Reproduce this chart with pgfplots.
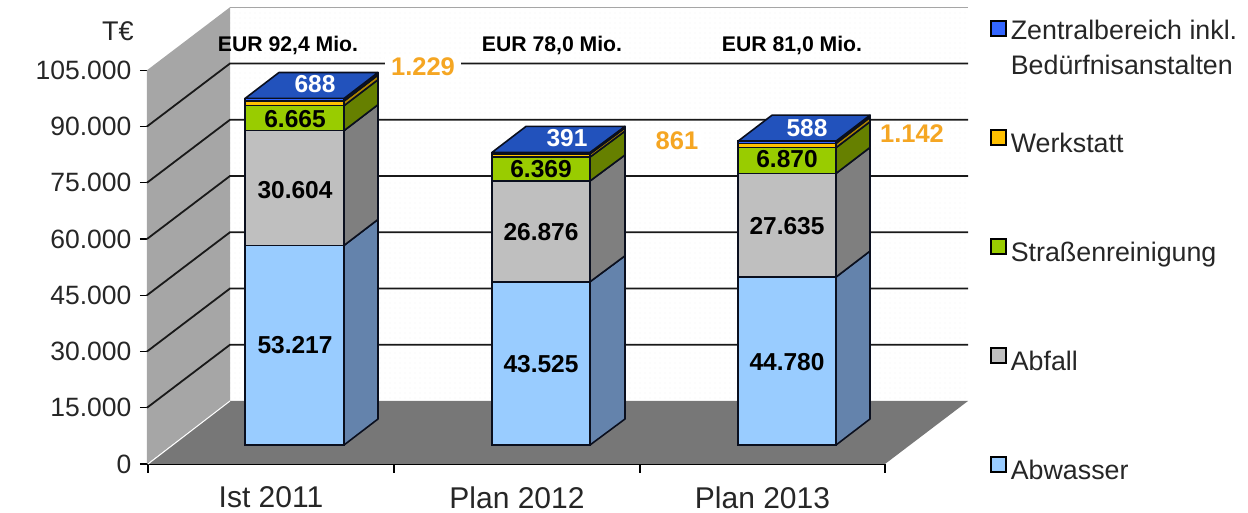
\documentclass[border=0pt]{standalone}
\usepackage{pgfplots}
\pgfplotsset{compat=1.18}
\usepackage{fontspec}
\setmainfont{Liberation Sans}
\usetikzlibrary{patterns.meta}
\definecolor{cAbw}{HTML}{99CCFF}\definecolor{cAbwS}{HTML}{6483AC}
\definecolor{cAbf}{HTML}{BFBFBF}\definecolor{cAbfS}{HTML}{7F7F7F}
\definecolor{cStr}{HTML}{99CC00}\definecolor{cStrS}{HTML}{668000}
\definecolor{cWer}{HTML}{FFC000}\definecolor{cWerS}{HTML}{B08500}
\definecolor{cZen}{HTML}{3366FF}\definecolor{cZenT}{HTML}{2252BC}\definecolor{cZenS}{HTML}{16286A}
\definecolor{cOr}{HTML}{F5A623}
\definecolor{cFloor}{HTML}{777777}\definecolor{cWall}{HTML}{A6A6A6}
\definecolor{cEdge}{HTML}{0A0F1E}
\newcommand\fs[1]{\fontsize{#1pt}{#1pt}\selectfont}
\pgfplotsset{
  common/.style={scale only axis,width=737pt,height=393.75pt,at={(148pt,49pt)},anchor=south west,
    xmin=148,xmax=885,clip=false},
  face/.style={draw=cEdge,line width=1.6pt,line join=round,forget plot},
  sw/.style={legend image code/.code={\draw[##1,draw=black,line width=1.8pt] (0pt,-2pt) rectangle (15pt,13pt);}},
}
\begin{document}
\begin{tikzpicture}
\useasboundingbox (0,0) rectangle (1248pt,513pt);
% walls, floor, grid and axes
\begin{axis}[common,ymin=0,ymax=105000,
  axis lines=left,axis line style={-,line width=1.8pt,black},
  xtick={271,517,762.5},xticklabels={Ist 2011,Plan 2012,Plan 2013},
  major x tick style={draw=none},
  minor xtick={148,394,640,885},
  minor tick length=9pt,minor tick style={line width=1.3pt,black},
  ytick={0,15000,30000,45000,60000,75000,90000,105000},
  major tick length=8pt,tick style={line width=1.3pt,black},tick align=outside,
  scaled y ticks=false,
  /pgf/number format/fixed,
  /pgf/number format/assume math mode=true,
  /pgf/number format/1000 sep={.},
  yticklabel style={font=\fs{26.5},text=black!85,xshift=-5pt},
  xticklabel style={font=\fs{30},text=black!85,yshift=-11pt},
  axis on top=false,
]
\addplot[fill=white,pattern={Dots[distance=5pt,radius=0.45pt]},pattern color=black!14,draw=none,forget plot]
  coordinates {(230,16800)(968,16800)(968,121800)(230,121800)} --cycle;
\addplot[draw=black!35,line width=1.2pt,forget plot] coordinates {(230,121800)(968,121800)};
\addplot[fill=cWall,draw=none,forget plot] coordinates {(147,0)(230,16800)(230,121800)(147,105000)} --cycle;
\addplot[fill=cFloor,draw=none,forget plot] coordinates {(148,0)(230,16800)(968,16800)(885,0)} --cycle;
\addplot[draw=white,line width=1pt,forget plot] coordinates {(148,0)(230,16800)};
\addplot[draw=black!90,line width=1.8pt,forget plot] coordinates {(147,15000)(230,31800)(968,31800)};
\addplot[draw=black!90,line width=1.8pt,forget plot] coordinates {(147,30000)(230,46800)(968,46800)};
\addplot[draw=black!90,line width=1.8pt,forget plot] coordinates {(147,45000)(230,61800)(968,61800)};
\addplot[draw=black!90,line width=1.8pt,forget plot] coordinates {(147,60000)(230,76800)(968,76800)};
\addplot[draw=black!90,line width=1.8pt,forget plot] coordinates {(147,75000)(230,91800)(968,91800)};
\addplot[draw=black!90,line width=1.8pt,forget plot] coordinates {(147,90000)(230,106800)(968,106800)};
\end{axis}
% side and top faces of the bars
\begin{axis}[common,ymin=-5067,ymax=99933,hide axis]
\addplot[face,fill=cAbwS] coordinates {(344,0)(378,6933)(378,60150)(344,53217)} --cycle;
\addplot[face,fill=cAbfS] coordinates {(344,53217)(378,60150)(378,90754)(344,83821)} --cycle;
\addplot[face,fill=cStrS] coordinates {(344,83821)(378,90754)(378,97419)(344,90486)} --cycle;
\addplot[face,fill=cWerS] coordinates {(344,90486)(378,97419)(378,98648)(344,91715)} --cycle;
\addplot[face,fill=cZenS] coordinates {(344,91715)(378,98648)(378,99336)(344,92403)} --cycle;
\addplot[face,fill=cZenT] coordinates {(245,92403)(279,99336)(378,99336)(344,92403)} --cycle;
\addplot[face,fill=cAbwS] coordinates {(590,0)(625,6933)(625,50458)(590,43525)} --cycle;
\addplot[face,fill=cAbfS] coordinates {(590,43525)(625,50458)(625,77334)(590,70401)} --cycle;
\addplot[face,fill=cStrS] coordinates {(590,70401)(625,77334)(625,83703)(590,76770)} --cycle;
\addplot[face,fill=cWerS] coordinates {(590,76770)(625,83703)(625,84564)(590,77631)} --cycle;
\addplot[face,fill=cZenS] coordinates {(590,77631)(625,84564)(625,84955)(590,78022)} --cycle;
\addplot[face,fill=cZenT] coordinates {(492,78022)(526,84955)(625,84955)(590,78022)} --cycle;
\addplot[face,fill=cAbwS] coordinates {(836,0)(870,6933)(870,51713)(836,44780)} --cycle;
\addplot[face,fill=cAbfS] coordinates {(836,44780)(870,51713)(870,79348)(836,72415)} --cycle;
\addplot[face,fill=cStrS] coordinates {(836,72415)(870,79348)(870,86218)(836,79285)} --cycle;
\addplot[face,fill=cWerS] coordinates {(836,79285)(870,86218)(870,87360)(836,80427)} --cycle;
\addplot[face,fill=cZenS] coordinates {(836,80427)(870,87360)(870,87948)(836,81015)} --cycle;
\addplot[face,fill=cZenT] coordinates {(738,81015)(772,87948)(870,87948)(836,81015)} --cycle;
\end{axis}
% front faces, stacked, with the legend
\begin{axis}[common,ymin=-5067,ymax=99933,hide axis,
  ybar stacked,bar width=98.5pt,
  reverse legend,
  legend cell align=left,
  legend style={at={(1.1425,1.127)},anchor=north west,draw=none,fill=none,
    font=\fs{26.8},text=black!85,row sep=85.5pt,inner sep=0pt,outer sep=0pt,
    nodes={inner ysep=0pt,inner xsep=4pt,text height=19pt,text depth=0pt}},
]
\addplot[sw,fill=cAbw,draw=cEdge,line width=1.6pt] coordinates {(294.5,53217)(541,43525)(787,44780)};
\addplot[sw,fill=cAbf,draw=cEdge,line width=1.6pt] coordinates {(294.5,30604)(541,26876)(787,27635)};
\addplot[sw,fill=cStr,draw=cEdge,line width=1.6pt] coordinates {(294.5,6665)(541,6369)(787,6870)};
\addplot[sw,fill=cWer,draw=cEdge,line width=1.6pt] coordinates {(294.5,1229)(541,861)(787,1142)};
\addplot[sw,fill=cZen,draw=cEdge,line width=1.6pt] coordinates {(294.5,688)(541,391)(787,588)};
\legend{Abwasser,Abfall,Straßenreinigung,Werkstatt,{\smash{\raisebox{4pt}{\parbox[t]{240pt}{\fs{26.8}\baselineskip=35pt Zentralbereich inkl.\\Bedürfnisanstalten}}}}}
\end{axis}
% texts, in picture pixels
\begin{axis}[scale only axis,width=1248pt,height=513pt,at={(0pt,0pt)},anchor=south west,
  xmin=0,xmax=1248,ymin=0,ymax=513,y dir=reverse,hide axis,clip=false]
\node[font=\fs{27},text=black!85] at (axis cs:118,31) {T€};
\node[font=\bfseries\fs{21.2},text=black] at (axis cs:288,45) {EUR 92,4 Mio.};
\node[font=\bfseries\fs{21.2},text=black] at (axis cs:552,45) {EUR 78,0 Mio.};
\node[font=\bfseries\fs{21.2},text=black] at (axis cs:792,45) {EUR 81,0 Mio.};
\node[font=\bfseries\fs{25.5},text=cOr,fill=white,inner xsep=6pt,inner ysep=1pt] at (axis cs:423,67) {1.229};
\node[font=\bfseries\fs{25.5},text=cOr,fill=white,inner xsep=6pt,inner ysep=1pt] at (axis cs:677,141) {861};
\node[font=\bfseries\fs{25.5},text=cOr,fill=white,inner xsep=6pt,inner ysep=1pt] at (axis cs:912,134) {1.142};
\node[font=\bfseries\fs{24.5}] at (axis cs:295,345) {53.217};
\node[font=\bfseries\fs{24.5}] at (axis cs:295,190) {30.604};
\node[font=\bfseries\fs{24.5}] at (axis cs:295,119) {6.665};
\node[font=\bfseries\fs{24.5},text=white] at (axis cs:315,84) {688};
\node[font=\bfseries\fs{24.5}] at (axis cs:541,364) {43.525};
\node[font=\bfseries\fs{24.5}] at (axis cs:541,232) {26.876};
\node[font=\bfseries\fs{24.5}] at (axis cs:541,169) {6.369};
\node[font=\bfseries\fs{24.5},text=white] at (axis cs:567,138) {391};
\node[font=\bfseries\fs{24.5}] at (axis cs:787,362) {44.780};
\node[font=\bfseries\fs{24.5}] at (axis cs:787,226) {27.635};
\node[font=\bfseries\fs{24.5}] at (axis cs:787,159) {6.870};
\node[font=\bfseries\fs{24.5},text=white] at (axis cs:807,128) {588};
\end{axis}
\end{tikzpicture}
\end{document}
